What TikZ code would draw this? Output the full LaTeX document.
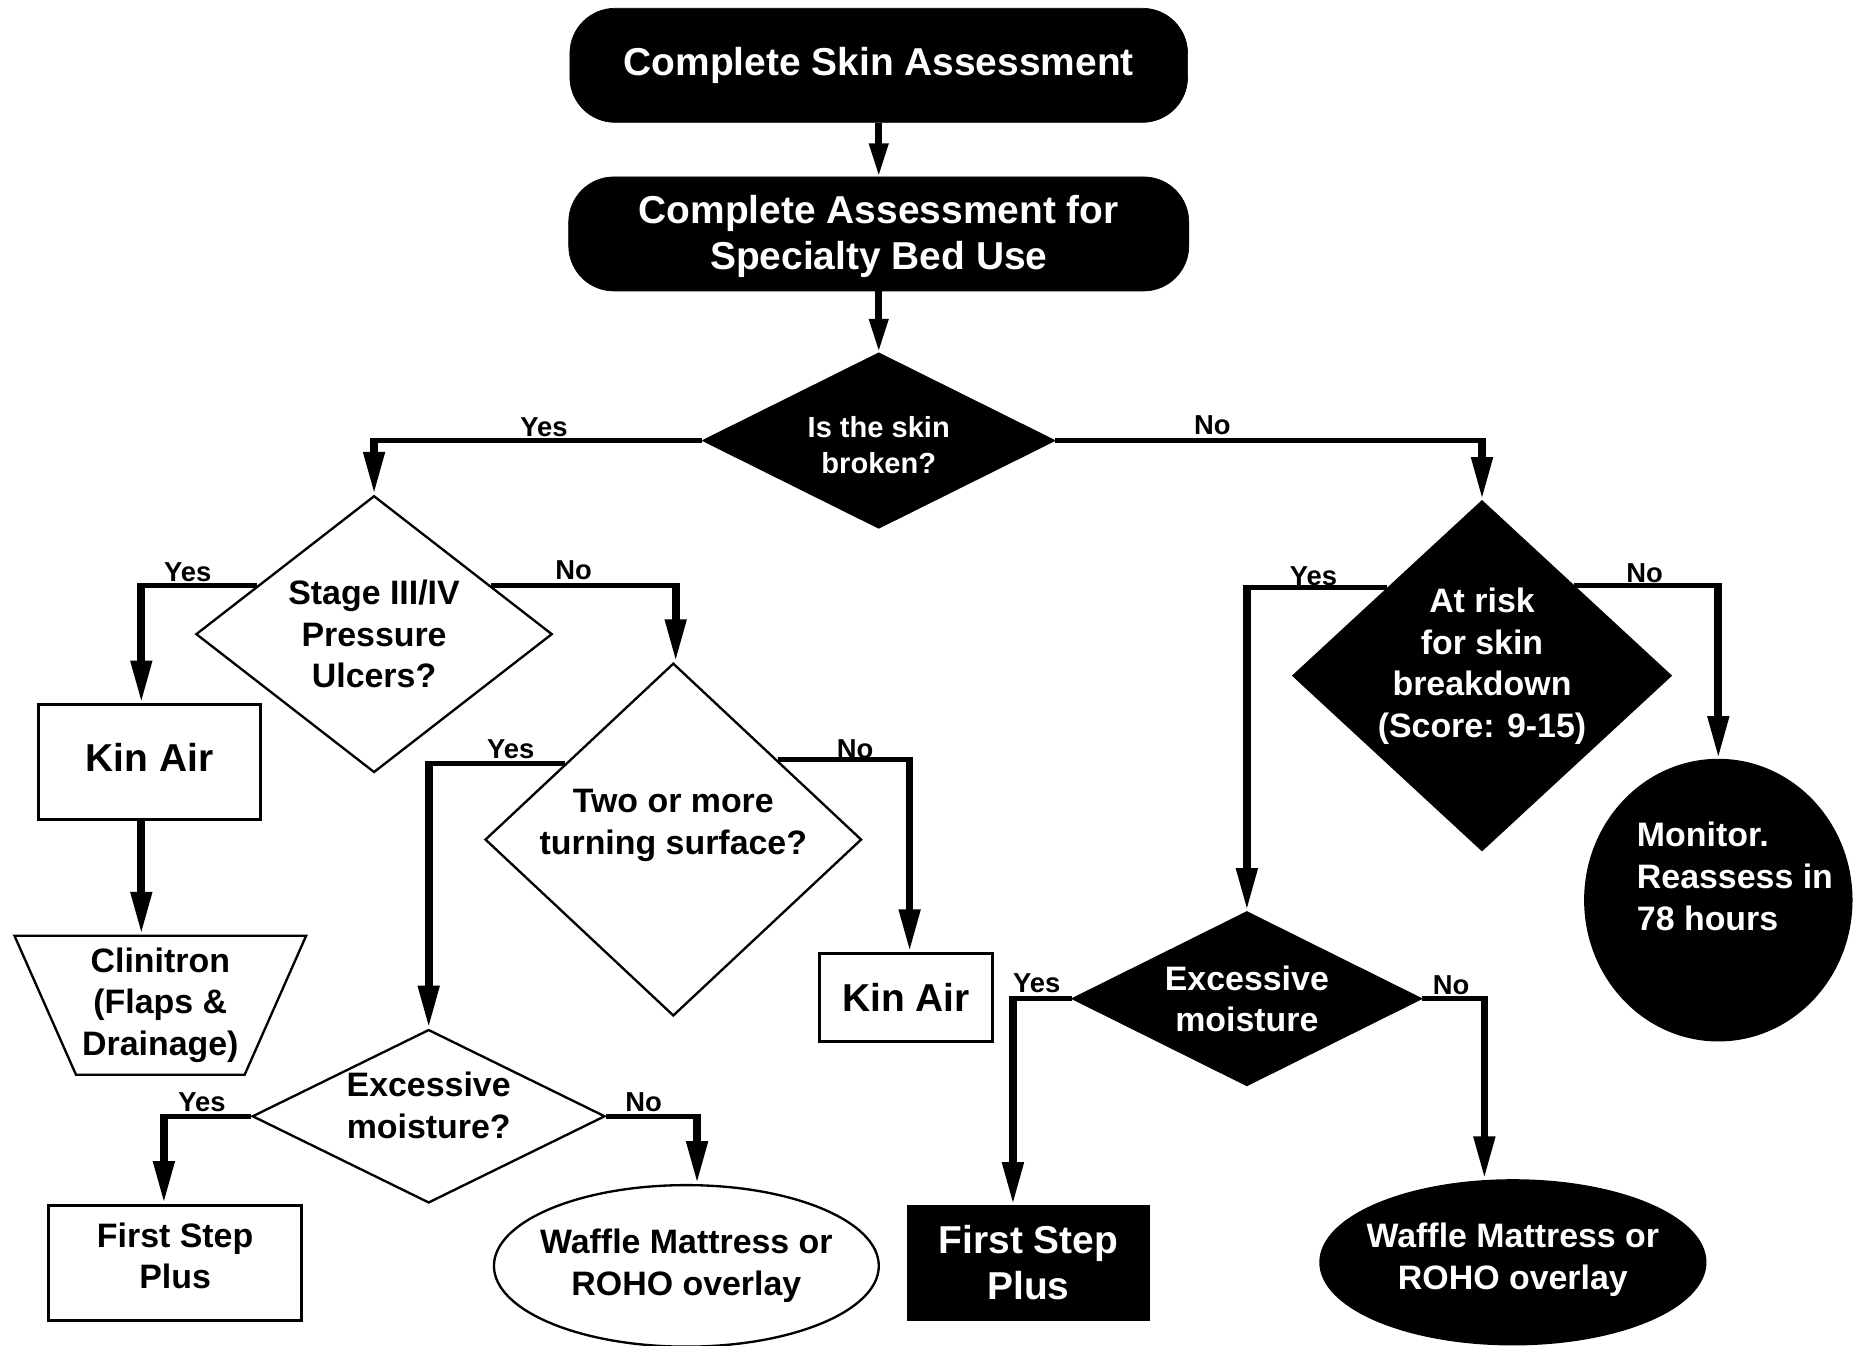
\documentclass[tikz,border=0pt]{standalone}
\usepackage{fontspec}
\setmainfont{Liberation Sans}
\usetikzlibrary{shapes.geometric,arrows.meta,calc}
\tikzset{
  bigf/.style={font=\bfseries\fontsize{23.3pt}{27.7pt}\selectfont},
  medf/.style={font=\bfseries\fontsize{20.3pt}{24.9pt}\selectfont},
  smlf/.style={font=\bfseries\fontsize{17.4pt}{21.3pt}\selectfont},
  lblf/.style={font=\bfseries\fontsize{16.4pt}{19pt}\selectfont},
  blk/.style={fill=black, draw=black, text=white},
  wht/.style={fill=white, draw=black},
  term/.style={rectangle, rounded corners=0.95cm, blk, bigf, align=center, inner sep=0, minimum width=13cm, minimum height=2.4cm},
  dec/.style={diamond, inner sep=0, align=center, line width=1.4pt},
  boxw/.style={rectangle, wht, line width=1.8pt, inner sep=0, align=center},
  ell/.style={ellipse, inner sep=0, align=center, line width=1.4pt},
  yn/.style={lblf, inner sep=0},
  hl/.style={line width=0.1cm, shorten >=-0.08cm},
  vl/.style={line width=0.1625cm, shorten <=-0.05cm, -{Triangle[length=0.9cm,width=0.42cm]}},
  vltop/.style={line width=0.14cm, -{Triangle[length=0.7cm,width=0.38cm]}},
}
\begin{document}
\begin{tikzpicture}[x=0.025cm, y=-0.025cm]
\useasboundingbox (0,0) rectangle (1568,1133);

% nodes
\node[term] (top) at (740,55) {Complete Skin Assessment};
\node[term, minimum width=13.05cm, label={[bigf, text=white, align=center, yshift=-0.05cm]center:{Complete Assessment for\\Specialty Bed Use}}] (assess) at (740,197) {};
\node[dec, blk, minimum width=7.375cm, minimum height=3.675cm, aspect=2, label={[smlf, text=white, align=center, yshift=-0.1cm]center:{Is the skin\\broken?}}] (broken) at (740,371) {};
\node[dec, wht, medf, minimum width=7.5cm, minimum height=5.825cm, aspect=1.29] (stage) at (315,534) {Stage III/IV\\Pressure\\Ulcers?};
\node[boxw, minimum width=4.675cm, minimum height=2.425cm, label={[bigf, yshift=0.1cm]center:Kin Air}] (kin1) at (126,642) {};
\node[trapezium, trapezium left angle=116.4, trapezium right angle=116.4, trapezium stretches=true, wht, line width=1.4pt, medf, align=center, inner sep=0, minimum width=6.15cm, minimum height=2.925cm] (clin) at (135,846.5) {Clinitron\\(Flaps \&\\Drainage)};
\node[dec, wht, minimum width=7.925cm, minimum height=7.425cm, aspect=1.07, label={[medf, align=center, yshift=0.3cm]center:{Two or more\\turning surface?}}] (two) at (567,707) {};
\node[boxw, bigf, minimum width=3.65cm, minimum height=1.85cm] (kin2) at (763,840) {Kin Air};
\node[dec, wht, minimum width=7.425cm, minimum height=3.65cm, aspect=2, label={[medf, align=center, yshift=0.225cm]center:{Excessive\\moisture?}}] (exc1) at (361,940) {};
\node[boxw, minimum width=5.325cm, minimum height=2.425cm, label={[medf, align=center, yshift=0.15cm]center:{First Step\\Plus}}] (fsp1) at (147.5,1063.5) {};
\node[ell, wht, minimum width=8.1cm, minimum height=3.4cm, label={[medf, align=center]center:{Waffle Mattress or\\ROHO overlay}}] (waf1) at (578,1066) {};
\node[dec, blk, minimum width=7.95cm, minimum height=7.35cm, aspect=1.08, label={[medf, text=white, align=center, yshift=0.2cm]center:{At risk\\for skin\\breakdown\\(Score: 9-15)}}] (risk) at (1248,569) {};
\node[ell, blk, minimum width=5.6cm, minimum height=5.9cm, label={[medf, text=white, align=left, xshift=0.35cm, yshift=0.5cm]center:{Monitor.\\Reassess in\\78 hours}}] (mon) at (1447,758) {};
\node[dec, blk, medf, minimum width=7.325cm, minimum height=3.65cm, aspect=2] (exc2) at (1050,841) {Excessive\\moisture};
\node[rectangle, blk, bigf, inner sep=0, align=center, minimum width=5.1cm, minimum height=2.425cm] (fsp2) at (866,1063.5) {First Step\\Plus};
\node[ell, blk, minimum width=8.1cm, minimum height=3.45cm, label={[medf, text=white, align=center, yshift=0.05cm]center:{Waffle Mattress or\\ROHO overlay}}] (waf2) at (1274,1063) {};

% yes/no labels
\node[yn] (y1) at (458,360) {Yes};
\node[yn] (n1) at (1021,358) {No};
\node[yn] (y2) at (158,482) {Yes};
\node[yn] (n2) at (483,480) {No};
\node[yn] (y3) at (430,631) {Yes};
\node[yn] (n3) at (720,631) {No};
\node[yn] (y4) at (170,928) {Yes};
\node[yn] (n4) at (542,928) {No};
\node[yn] (y5) at (1106,485) {Yes};
\node[yn] (n5) at (1385,483) {No};
\node[yn] (y6) at (873,828) {Yes};
\node[yn] (n6) at (1222,830) {No};

% helper coordinates
\coordinate (sL) at ($(stage.west)!0.35!(stage.north)$);
\coordinate (sR) at ($(stage.east)!0.35!(stage.north)$);
\coordinate (tL) at ($(two.west)!0.43!(two.north)$);
\coordinate (tR) at ($(two.east)!0.45!(two.north)$);
\coordinate (rL) at ($(risk.west)!0.5!(risk.north)$);
\coordinate (rR) at ($(risk.east)!0.515!(risk.north)$);
\coordinate (xC) at (119,0);
\coordinate (xD) at (569,0);
\coordinate (xG) at (766,0);
\coordinate (xH) at (138,0);
\coordinate (xI) at (587,0);
\coordinate (xL) at (853,0);
\coordinate (xM) at (1250,0);

% connectors
\draw[vltop] (top.south) -- (assess.north);
\draw[vltop] (assess.south) -- (broken.north);

\draw[hl] (broken.west) -- (broken.west -| stage.north);
\draw[vl] (broken.west -| stage.north) -- (stage.north);
\draw[hl] (broken.east) -- (broken.east -| risk.north);
\draw[vl] (broken.east -| risk.north) -- (risk.north);

\draw[hl] (sL) -- (sL -| xC);
\draw[vl] (sL -| xC) -- (xC |- kin1.north);
\draw[hl] (sR) -- (sR -| xD);
\draw[vl] (sR -| xD) -- (xD |- two.north);

\draw[vl, shorten <=0pt] (xC |- kin1.south) -- (xC |- clin.north);

\draw[hl] (tL) -- (tL -| exc1.north);
\draw[vl] (tL -| exc1.north) -- (exc1.north);
\draw[hl] (tR) -- (tR -| xG);
\draw[vl] (tR -| xG) -- (xG |- kin2.north);

\draw[hl] (exc1.west) -- (exc1.west -| xH);
\draw[vl] (exc1.west -| xH) -- (xH |- fsp1.north);
\draw[hl] (exc1.east) -- (exc1.east -| xI);
\draw[vl] (exc1.east -| xI) -- (xI |- waf1.north);

\draw[hl] (rL) -- (rL -| exc2.north);
\draw[vl] (rL -| exc2.north) -- (exc2.north);
\draw[hl] (rR) -- (rR -| mon.north);
\draw[vl] (rR -| mon.north) -- (mon.north);

\draw[hl] (exc2.west) -- (exc2.west -| xL);
\draw[vl] (exc2.west -| xL) -- (xL |- fsp2.north);
\draw[hl] (exc2.east) -- (exc2.east -| xM);
\draw[vl] (exc2.east -| xM) -- (xM |- waf2.north);
\end{tikzpicture}
\end{document}
